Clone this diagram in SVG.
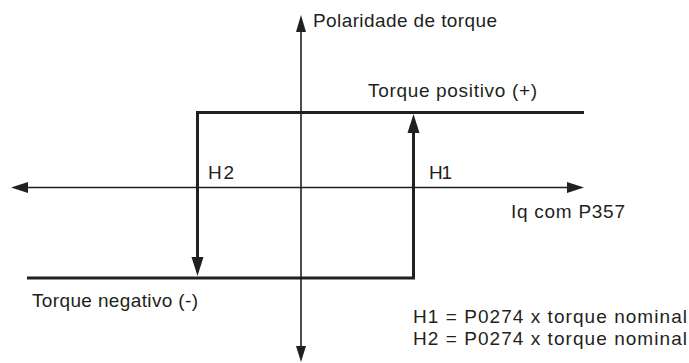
<svg xmlns="http://www.w3.org/2000/svg" width="689" height="363" viewBox="0 0 689 363">
<style>
text{font-family:"Liberation Sans",Arial,sans-serif;font-size:19px;fill:#231f20}
.ax{stroke:#231f20;stroke-width:1.6;fill:none}
.bx{stroke:#231f20;stroke-width:3;fill:none}
.ah{fill:#231f20}
</style>
<rect width="689" height="363" fill="#fff"/>
<g id="connectors">
<line class="ax" x1="301" y1="30" x2="301" y2="348"/>
<polygon class="ah" points="301,15 296,32 306,32"/>
<polygon class="ah" points="301,362 296,346 306,346"/>
<line class="ax" x1="26" y1="187.5" x2="570" y2="187.5"/>
<polygon class="ah" points="11,187.5 28,182 28,193"/>
<polygon class="ah" points="584,187.5 567,182 567,193"/>
<polyline class="bx" points="584,112.5 197.5,112.5 197.5,258"/>
<polygon class="ah" points="197.5,276 191.5,257 203.5,257"/>
<polyline class="bx" points="27,278 413.5,278 413.5,132"/>
<polygon class="ah" points="413.5,114 407.5,133 419.5,133"/>
</g>
<g id="labels">
<text x="313" y="27" textLength="184">Polaridade de torque</text>
<text x="368" y="97" textLength="169">Torque positivo (+)</text>
<text x="208" y="179" textLength="26">H2</text>
<text x="429" y="179" textLength="23">H1</text>
<text x="511" y="218" textLength="114">Iq com P357</text>
<text x="32" y="307" textLength="166">Torque negativo (-)</text>
<text x="413" y="323" textLength="274">H1 = P0274 x torque nominal</text>
<text x="413" y="345" textLength="274">H2 = P0274 x torque nominal</text>
</g>
</svg>
